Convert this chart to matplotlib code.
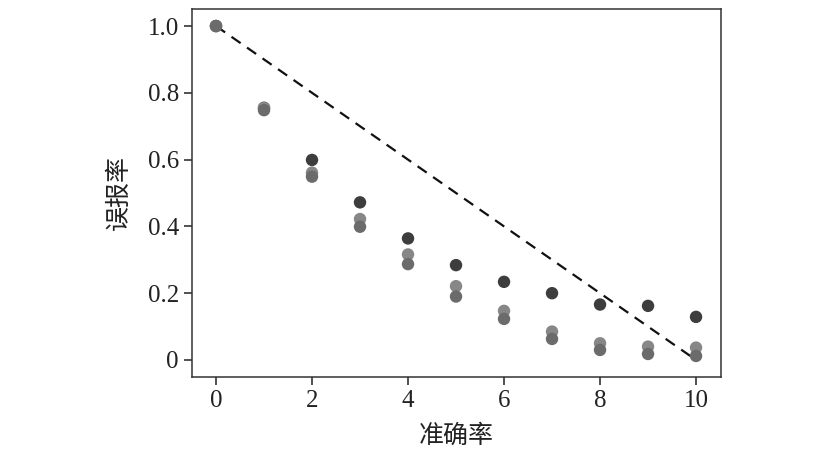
import matplotlib
matplotlib.use("Agg")
import matplotlib.pyplot as plt

plt.rcParams['font.family'] = ['Liberation Serif', 'Noto Sans CJK SC']

x = [0, 1, 2, 3, 4, 5, 6, 7, 8, 9, 10]
series_dark = [1.0, 0.755, 0.599, 0.472, 0.364, 0.284, 0.234, 0.200, 0.166, 0.162, 0.129]
series_light = [1.0, 0.755, 0.561, 0.422, 0.316, 0.221, 0.147, 0.085, 0.050, 0.040, 0.037]
series_mid = [1.0, 0.748, 0.549, 0.399, 0.287, 0.190, 0.123, 0.063, 0.030, 0.018, 0.012]
ref_x = [0, 10]
ref_y = [1.0, 0.0]
xticks = [0, 2, 4, 6, 8, 10]
yticks = [0, 0.2, 0.4, 0.6, 0.8, 1.0]
ytick_labels = ['0', '0.2', '0.4', '0.6', '0.8', '1.0']

fig = plt.figure(figsize=(8.3, 4.7), dpi=100)
ax = fig.add_axes([192/830, 1 - 377/470, (721-192)/830, (377-9)/470])

ax.plot(ref_x, ref_y, linestyle=(0, (5, 3.5)), color='#111111', linewidth=1.6, zorder=1)
ax.scatter(x, series_dark, s=80, color='#3d3d3d', edgecolors='none', zorder=3)
ax.scatter(x, series_light, s=80, color='#878787', edgecolors='none', zorder=3)
ax.scatter(x, series_mid, s=80, color='#6b6b6b', edgecolors='none', zorder=4)

ax.set_xlim(-0.5, 10.52)
ax.set_ylim(-0.051, 1.051)
ax.set_xticks(xticks)
ax.set_yticks(yticks)
ax.set_yticklabels(ytick_labels)
ax.tick_params(direction='out', length=6, width=1.1, labelsize=18, colors='#222222')
for sp in ax.spines.values():
    sp.set_linewidth(1.1)
    sp.set_color('#333333')

ax.set_xlabel('准确率', fontsize=18, color='#222222', labelpad=9)
ax.set_ylabel('误报率', fontsize=18, color='#222222', labelpad=12)

fig.savefig('out.png', dpi=100)
